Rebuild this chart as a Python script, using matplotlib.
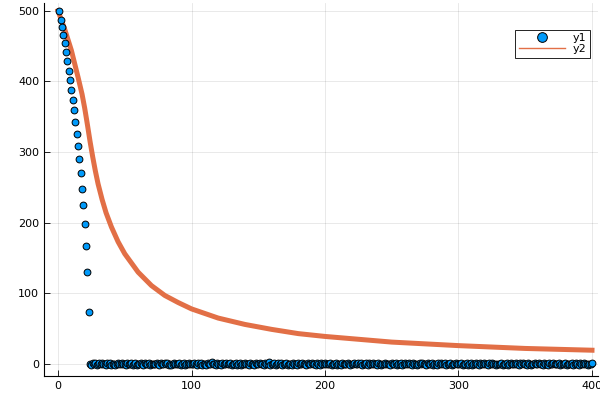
import numpy as np
import matplotlib
matplotlib.use("Agg")
import matplotlib.pyplot as plt
from matplotlib.lines import Line2D

# y1: fast drop for the first 23 steps, then noise around zero
drop = [500, 487.6, 477.2, 465.8, 454, 441.6, 428.3, 415, 401.7, 387.9, 373.6, 359,
        342.9, 325.8, 308.7, 290.2, 270.7, 248, 225.5, 198.4, 167, 129.6, 74]
noise = [
    0.3, -0.8, 1.1, -0.4, 0.9, -1.3, 0.2, 0.7, -0.6, 1.4, -0.2, 0.5, -1.0, 0.8, -0.3, 1.2, -0.9, 0.1, 0.6, -1.1,
    0.4, 1.0, -0.7, -0.2, 1.3, -0.5, 0.0, -1.2, 0.9, 0.3, -0.4, 1.6, -0.8, 0.2, 0.7, -1.4, 0.5, -0.1, 1.1, -0.6,
    -0.9, 0.8, 0.2, -0.3, 1.5, -1.0, 0.6, -0.2, 0.4, -0.7, 1.2, 0.1, -1.3, 0.9, -0.5, 0.3, 2.1, -0.4, 0.7, -0.8,
    0.5, -1.1, 0.0, 1.0, -0.6, 0.4, -0.3, 1.3, -0.9, 0.2, 0.8, -1.2, 0.6, -0.1, 1.4, -0.7, 0.3, -0.5, 0.9, 0.1,
    -1.0, 0.7, -0.2, 1.1, -0.8, 0.4, 0.0, -1.3, 1.2, -0.4, 0.6, 2.4, -0.6, 0.3, -0.9, 1.0, -0.1, 0.5, -1.2, 0.8,
    0.2, -0.5, 1.3, -0.7, 0.1, 0.9, -1.1, 0.4, -0.3, 1.5, -0.8, 0.0, 0.7, -1.0, 0.6, -0.2, 1.1, -0.6, 0.3, -0.9,
    1.2, -0.4, 0.5, -1.2, 0.8, 0.2, -0.7, 1.0, -0.3, 0.4, -1.1, 0.9, 0.1, -0.5, 2.6, -0.8, 0.6, -0.2, 1.3, -1.0,
    0.0, 0.7, -0.6, 1.1, -0.9, 0.3, -0.1, 1.4, -1.3, 0.5, 0.2, -0.8, 1.0, -0.4, 0.6, -1.0, 0.8, 0.1, -0.7, 1.2,
    -0.3, 0.4, -1.1, 0.9, 0.2, -0.6, 1.3, -0.2, 0.5, -1.2, 0.7, 0.0, -0.9, 1.1, -0.5, 0.3, 1.8, -0.7, 0.6, -0.1,
    0.8, -1.3, 0.4, -0.2, 1.0, -0.8, 0.1, 0.6, -1.0, 1.2, -0.4, 0.3, -0.6, 0.9, 0.2, -1.1, 0.5, -0.3, 1.4, -0.7,
    0.1, 0.9, -0.5, 1.1, -1.2, 0.4, -0.1, 0.7, -0.9, 1.3, 0.0, -0.6, 0.8, -0.3, 0.5, -1.0, 1.0, 0.2, -0.8, 0.6,
    -0.4, 1.2, -0.7, 0.3, 0.0, -1.1, 0.9, -0.2, 0.6, 1.6, -0.9, 0.4, -0.5, 1.1, -1.3, 0.2, 0.7, -0.1, -0.6, 1.0,
    0.3, -0.8, 1.3, -0.4, 0.5, -1.0, 0.1, 0.8, -0.7, 1.2, -0.2, 0.4, -1.2, 0.9, 0.0, -0.5, 1.1, -0.9, 0.6, 0.2,
    -1.1, 0.7, -0.3, 1.0, -0.6, 0.3, 1.4, -0.8, 0.1, -0.4, 0.9, -1.2, 0.5, 0.0, 1.2, -0.7, 0.4, -0.2, 0.8, -1.0,
    0.6, -0.1, 1.1, -0.9, 0.2, 0.7, -1.3, 0.4, -0.5, 1.3, 0.0, -0.8, 0.9, -0.3, 0.5, 2.0, -0.6, 0.1, -1.0, 0.8,
    -0.2, 1.0, -0.7, 0.3, -1.1, 0.6, 0.1, -0.4, 1.2, -0.9, 0.5, -0.1, 0.8, -1.2, 0.4, 1.1, -0.6, 0.2, -0.3, 0.9,
    0.4, -1.0, 0.7, -0.5, 1.3, -0.2, 0.0, -0.8, 1.0, 0.3, -1.1, 0.6, -0.4, 1.4, -0.7, 0.2, 0.9, -0.3, 0.5, -0.9,
    1.1, -0.6, 0.2, -1.2, 0.8, 0.4, -0.1, 1.0, -0.7, 0.3, -0.5, 1.2, -1.0, 0.6, 0.0, -0.3, 0.9, -0.8, 0.5, 0.1,
    -0.4, 1.1, -0.9, 0.3, 0.7, -0.2, -1.0, 0.8, 0.1, -0.6, 1.2, -0.3, 0.4, -0.8, 0.6, 0.0, 1.5,
]
y1 = np.array(drop + noise)
x1 = np.arange(1, len(y1) + 1)

# y2: smooth curve
x2 = [0, 5, 10, 15, 18, 20, 22, 24, 26, 28, 30, 33, 36, 40, 45, 50, 60, 70, 80, 90,
      100, 120, 140, 160, 180, 200, 225, 250, 300, 350, 400]
y2 = [500, 474, 444, 406, 382, 362, 339, 315, 293, 273, 255, 233, 214, 194, 173, 156,
      130, 111, 97, 87, 78, 65, 56, 49, 43, 39, 35, 31, 26, 22, 19.5]

blue = "#009AFA"
orange = "#E26F46"

fig = plt.figure(figsize=(6, 3.96), dpi=100)
ax = fig.add_axes([44 / 600, 20 / 396, 554 / 600, 373 / 396])

ax.plot(x2, y2, color=orange, lw=3.6, zorder=2, solid_joinstyle="round")
ax.scatter(x1, y1, s=24, color=blue, edgecolors="black", linewidths=0.7, zorder=3)

ax.set_xlim(-10.5, 404.5)
ax.set_ylim(-17, 511)
ax.set_xticks([0, 100, 200, 300, 400])
ax.set_yticks([0, 100, 200, 300, 400, 500])
ax.grid(True, color="black", alpha=0.1, lw=0.6)
ax.set_axisbelow(True)
for s in ["top", "right"]:
    ax.spines[s].set_visible(False)
for s in ["left", "bottom"]:
    ax.spines[s].set_linewidth(0.8)
ax.tick_params(direction="in", length=4, width=0.6, labelsize=8, colors="black")

handles = [
    Line2D([], [], ls="none", marker="o", markersize=7, markerfacecolor=blue,
           markeredgecolor="black", markeredgewidth=0.7),
    Line2D([], [], color=orange, lw=1),
]
leg = ax.legend(handles, ["y1", "y2"], loc="upper right", bbox_to_anchor=(0.986, 0.928),
                borderaxespad=0, fontsize=8, fancybox=False, framealpha=1,
                edgecolor="black", handlelength=4.2, labelspacing=0.1,
                borderpad=0.3, handletextpad=0.7)
leg.get_frame().set_linewidth(0.6)
for t in leg.get_texts():
    t.set_ha("left")

fig.savefig("out.png", dpi=100)
